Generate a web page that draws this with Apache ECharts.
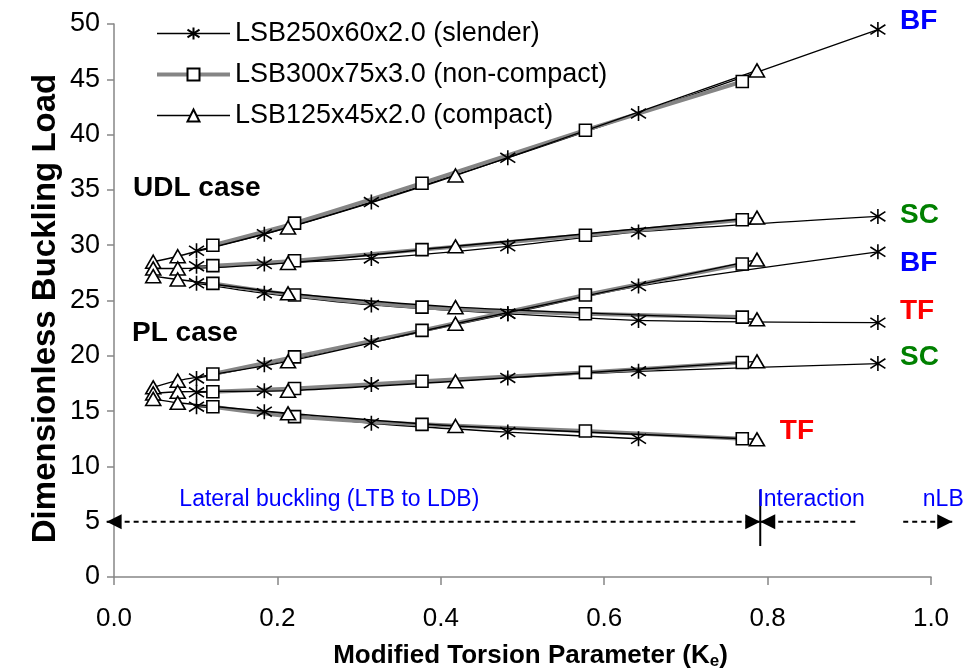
<!DOCTYPE html>
<html>
<head>
<meta charset="utf-8">
<script src="https://cdn.jsdelivr.net/npm/echarts@6/dist/echarts.min.js"></script>
<style>
  html, body { margin: 0; padding: 0; background: #fff; }
  #chart { width: 969px; height: 672px; }
</style>
</head>
<body>
<div id="chart"></div>
<script>
// Modified torsion parameter K_e of each sampled beam length
const kSlender = [0.101, 0.184, 0.315, 0.482, 0.642, 0.935];
const kNonCompact = [0.121, 0.221, 0.377, 0.577, 0.769];
const kCompact = [0.048, 0.078, 0.213, 0.418, 0.787];

// LSB250x60x2.0 (slender) - dimensionless buckling load
const slenderUdlBF = [29.5, 31.0, 33.9, 37.9, 41.9, 49.5];
const slenderUdlSC = [28.1, 28.3, 28.8, 29.9, 31.2, 32.6];
const slenderUdlTF = [26.55, 25.65, 24.6, 23.8, 23.2, 23.0];
const slenderPlBF = [17.95, 19.2, 21.2, 23.8, 26.3, 29.4];
const slenderPlSC = [16.7, 16.85, 17.4, 18.0, 18.6, 19.3];
const slenderPlTF = [15.4, 14.95, 13.9, 13.1, 12.5];

// LSB300x75x3.0 (non-compact)
const nonCompactUdlBF = [30.0, 32.0, 35.6, 40.4, 44.8];
const nonCompactUdlSC = [28.15, 28.6, 29.6, 30.9, 32.3];
const nonCompactUdlTF = [26.55, 25.5, 24.4, 23.8, 23.5];
const nonCompactPlBF = [18.35, 19.9, 22.3, 25.5, 28.3];
const nonCompactPlSC = [16.75, 17.05, 17.7, 18.5, 19.4];
const nonCompactPlTF = [15.4, 14.5, 13.8, 13.2, 12.5];

// LSB125x45x2.0 (compact)
const compactUdlBF = [28.5, 29.0, 31.6, 36.3, 45.8];
const compactUdlSC = [27.9, 27.9, 28.4, 29.9, 32.5];
const compactUdlTF = [27.2, 26.9, 25.65, 24.4, 23.3];
const compactPlBF = [17.15, 17.75, 19.5, 22.9, 28.7];
const compactPlSC = [16.6, 16.75, 16.85, 17.7, 19.5];
const compactPlTF = [16.1, 15.75, 14.8, 13.65, 12.45];

const sectionNames = [
  'LSB250x60x2.0 (slender)',
  'LSB300x75x3.0 (non-compact)',
  'LSB125x45x2.0 (compact)'
];

// Axis ticks
const xTicks = [0, 0.2, 0.4, 0.6, 0.8, 1.0];
const yTicks = [0, 5, 10, 15, 20, 25, 30, 35, 40, 45, 50];

// Failure-mode labels and load case captions
const modeLabels = ['BF', 'SC', 'BF', 'TF', 'SC', 'TF'];
const caseLabels = ['UDL case', 'PL case'];
// Buckling regime notes along the K_e axis
const regimeLabels = ['Lateral buckling (LTB to LDB)', 'Interaction', 'nLB'];

const FONT = "'Liberation Sans', Arial, Helvetica, sans-serif";
const ASTERISK = 'path://M7,0L7,14M0,2.5L14,11.5M0,11.5L14,2.5';

const styles = [
  {
    symbol: ASTERISK, symbolSize: 15,
    lineStyle: { color: '#000', width: 1.3 },
    itemStyle: { color: 'rgba(0,0,0,0)', borderColor: '#000', borderWidth: 1.6 }
  },
  {
    symbol: 'rect', symbolSize: 12,
    lineStyle: { color: '#858585', width: 4 },
    itemStyle: { color: '#fff', borderColor: '#000', borderWidth: 1.6 }
  },
  {
    symbol: 'triangle', symbolSize: [15, 13],
    lineStyle: { color: '#000', width: 1.4 },
    itemStyle: { color: '#fff', borderColor: '#000', borderWidth: 1.6 }
  }
];

const sections = [
  { k: kSlender, curves: [slenderUdlBF, slenderUdlSC, slenderUdlTF, slenderPlBF, slenderPlSC, slenderPlTF] },
  { k: kNonCompact, curves: [nonCompactUdlBF, nonCompactUdlSC, nonCompactUdlTF, nonCompactPlBF, nonCompactPlSC, nonCompactPlTF] },
  { k: kCompact, curves: [compactUdlBF, compactUdlSC, compactUdlTF, compactPlBF, compactPlSC, compactPlTF] }
];

const series = [];
sections.forEach((sec, si) => {
  sec.curves.forEach((vals) => {
    series.push(Object.assign({
      type: 'line',
      name: sectionNames[si],
      smooth: 0.25,
      showAllSymbol: true,
      animation: false,
      data: vals.map((v, i) => [sec.k[i], v])
    }, styles[si]));
  });
});

const chart = echarts.init(document.getElementById('chart'), null, { renderer: 'canvas' });

chart.setOption({
  backgroundColor: '#fff',
  animation: false,
  grid: { left: 114, right: 38, top: 24, bottom: 95, containLabel: false, outerBoundsMode: 'none' },
  legend: {
    orient: 'vertical',
    left: 155,
    top: 20,
    itemWidth: 73,
    itemHeight: 15,
    itemGap: 14,
    selectedMode: false,
    padding: 0,
    data: sectionNames.map((n, i) => ({
      name: n,
      lineStyle: { width: styles[i].lineStyle.width, color: styles[i].lineStyle.color }
    })),
    textStyle: { fontFamily: FONT, fontSize: 27, color: '#000' }
  },
  xAxis: {
    type: 'value',
    min: xTicks[0],
    max: xTicks[xTicks.length - 1],
    interval: 0.2,
    axisLine: { lineStyle: { color: '#868686', width: 1.5 } },
    axisTick: { show: true, length: 8, lineStyle: { color: '#868686', width: 1.5 } },
    splitLine: { show: false },
    axisLabel: {
      margin: 29, fontFamily: FONT, fontSize: 26, color: '#000',
      formatter: (v) => v.toFixed(1)
    },
    name: '{t|Modified Torsion Parameter (K}{s|e}{t|)}',
    nameLocation: 'middle',
    nameGap: 64,
    nameMoveOverlap: false,
    nameTextStyle: {
      padding: [0, 0, 0, 16],
      rich: {
        t: { fontFamily: FONT, fontSize: 26, fontWeight: 'bold', color: '#000' },
        s: { fontFamily: FONT, fontSize: 17, fontWeight: 'bold', color: '#000', padding: [12, 0, 0, 0] }
      }
    }
  },
  yAxis: {
    type: 'value',
    min: yTicks[0],
    max: yTicks[yTicks.length - 1],
    interval: 5,
    axisLine: { show: true, lineStyle: { color: '#868686', width: 1.5 } },
    axisTick: { show: true, length: 7, lineStyle: { color: '#868686', width: 1.5 } },
    splitLine: { show: false },
    axisLabel: { margin: 14, fontFamily: FONT, fontSize: 27, color: '#000' },
    name: 'Dimensionless Buckling Load',
    nameLocation: 'middle',
    nameRotate: 90,
    nameGap: 52,
    nameMoveOverlap: false,
    nameTextStyle: { fontFamily: FONT, fontSize: 33, fontWeight: 'bold', color: '#000', padding: [0, 16, 0, 0] }
  },
  series: series
});

// Annotations placed in data space and converted through the grid
const toPx = (p) => chart.convertToPixel({ gridIndex: 0 }, p);

const level = 5;
const dividerK = 0.791;
const spans = [
  { from: -0.009, to: dividerK, arrows: ['start', 'end'] },
  { from: dividerK, to: 0.909, arrows: ['start'] },
  { from: 0.966, to: 1.026, arrows: ['end'] }
];

const graphics = [];
const dashStyle = { stroke: '#000', lineWidth: 2, lineDash: [5, 4] };

function arrowHead(tip, dir) {
  const len = 15, half = 7.5;
  return {
    type: 'polygon',
    shape: { points: [[tip[0], tip[1]], [tip[0] - dir * len, tip[1] - half], [tip[0] - dir * len, tip[1] + half]] },
    style: { fill: '#000' },
    z: 20
  };
}

spans.forEach((s) => {
  const a = toPx([s.from, level]);
  const b = toPx([s.to, level]);
  graphics.push({
    type: 'line',
    shape: { x1: a[0], y1: a[1], x2: b[0], y2: b[1] },
    style: dashStyle,
    z: 19
  });
  if (s.arrows.includes('start')) graphics.push(arrowHead(a, -1));
  if (s.arrows.includes('end')) graphics.push(arrowHead(b, 1));
});

const dTop = toPx([dividerK, 7.9]);
const dBot = toPx([dividerK, 2.8]);
graphics.push({
  type: 'line',
  shape: { x1: dTop[0], y1: dTop[1], x2: dBot[0], y2: dBot[1] },
  style: { stroke: '#000', lineWidth: 2 },
  z: 20
});

// Regime notes
const regimePos = [[0.08, 6.95], [0.7875, 6.95], [0.99, 6.95]];
regimeLabels.forEach((t, i) => {
  const p = toPx(regimePos[i]);
  graphics.push({
    type: 'text', x: p[0], y: p[1], z: 20,
    style: { text: t, fill: '#0000ff', font: '23px ' + FONT, textAlign: 'left', textVerticalAlign: 'middle' }
  });
});

// Load case captions
const casePos = [[0.0233, 35.15], [0.0221, 22.05]];
caseLabels.forEach((t, i) => {
  const p = toPx(casePos[i]);
  graphics.push({
    type: 'text', x: p[0], y: p[1], z: 20,
    style: { text: t, fill: '#000', font: 'bold 28px ' + FONT, textAlign: 'left', textVerticalAlign: 'middle' }
  });
});

// Failure mode labels next to the curve ends
const modeColors = { BF: '#0000ff', SC: '#008000', TF: '#ff0000' };
const modePos = [[0.962, 50.25], [0.962, 32.75], [0.962, 28.35], [0.962, 24.05], [0.962, 19.85], [0.815, 13.2]];
modeLabels.forEach((t, i) => {
  const p = toPx(modePos[i]);
  graphics.push({
    type: 'text', x: p[0], y: p[1], z: 20,
    style: { text: t, fill: modeColors[t], font: 'bold 28px ' + FONT, textAlign: 'left', textVerticalAlign: 'middle' }
  });
});

chart.setOption({ graphic: graphics });
</script>
</body>
</html>
